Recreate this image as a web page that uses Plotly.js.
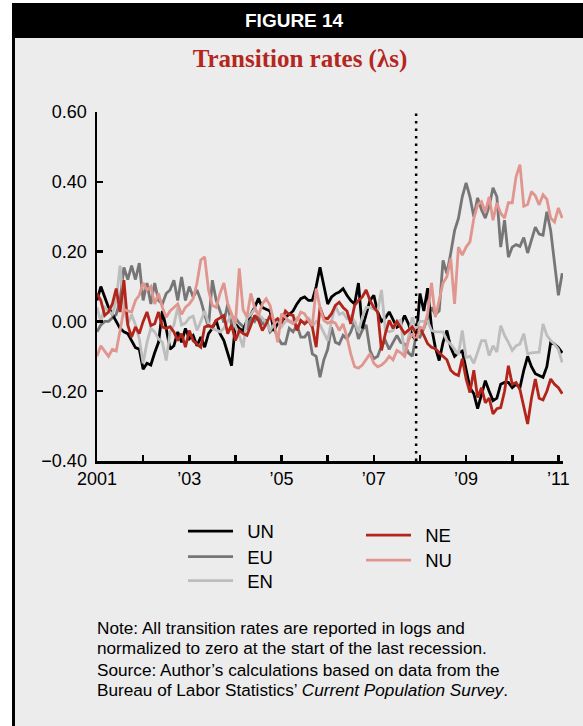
<!DOCTYPE html>
<html>
<head>
<meta charset="utf-8">
<script src="https://cdn.plot.ly/plotly-3.0.1.min.js"></script>
<style>
html,body{margin:0;padding:0;background:#ffffff;}
#chart{width:583px;height:726px;}
</style>
</head>
<body>
<div id="chart"></div>
<script>
// ---- data (monthly, Jan 2001 .. Feb 2011), logs normalized to zero at start of last recession ----
const startYear = 2001;
const recessionStart = 2007 + 11/12; // Dec 2007

const UN = [
 0.06, 0.10, 0.07, 0.04, 0.02, 0.00, -0.02, -0.03, -0.035, -0.055,
 -0.075, -0.08, -0.137, -0.12, -0.125, -0.09, -0.06, 0.03, -0.02, -0.08,
 -0.07, -0.03, -0.06, -0.02, -0.05, -0.04, -0.07, -0.045, -0.074, -0.035,
 -0.02, 0.003, -0.035, -0.055, -0.09, -0.127, -0.007, -0.02, -0.027, 0.003,
 0.02, 0.04, 0.066, 0.04, 0.035, 0.03, -0.027, -0.005, 0.0, 0.012,
 0.02, 0.03, 0.05, 0.065, 0.07, 0.06, 0.06, 0.10, 0.155, 0.10,
 0.05, 0.07, 0.079, 0.084, 0.094, 0.075, 0.06, 0.05, 0.11, -0.02,
 0.02, 0.06, 0.075, 0.027, 0.0, 0.01, 0.027, 0.005, -0.017, -0.01,
 0.017, -0.007, -0.04, -0.055, 0.08, 0.03, 0.095, -0.017, -0.075, -0.112,
 -0.06, -0.026, -0.075, -0.10, -0.09, -0.085, -0.14, -0.19, -0.207, -0.25,
 -0.21, -0.17, -0.20, -0.227, -0.22, -0.18, -0.175, -0.175, -0.19, -0.18,
 -0.19, -0.14, -0.10, -0.13, -0.15, -0.155, -0.16, -0.13, -0.06, -0.065,
 -0.075, -0.09
];

const EU = [
 -0.03, -0.01, 0.00, 0.00, 0.01, 0.02, 0.06, 0.155, 0.12, 0.16,
 0.12, 0.167, 0.06, 0.11, 0.05, 0.11, 0.06, 0.05, 0.08, 0.09,
 0.118, 0.06, 0.127, 0.06, 0.10, 0.07, 0.09, 0.06, 0.02, -0.017,
 0.118, 0.06, 0.03, -0.003, 0.05, -0.01, 0.01, -0.005, -0.015, -0.02,
 0.01, 0.00, 0.02, -0.01, 0.005, -0.03, -0.02, -0.045, -0.064, -0.064,
 -0.02, -0.03, -0.01, -0.045, -0.045, -0.03, -0.093, -0.10, -0.16, -0.11,
 -0.08, -0.017, -0.06, -0.065, -0.04, -0.05, -0.03, 0.0, -0.05, -0.025,
 -0.01, -0.083, -0.107, -0.10, -0.07, -0.055, -0.08, -0.06, -0.04, -0.06,
 -0.065, -0.09, -0.10, -0.04, -0.045, -0.02, 0.01, 0.04, 0.02, 0.03,
 0.175, 0.137, 0.195, 0.26, 0.295, 0.357, 0.397, 0.357, 0.30, 0.354,
 0.32, 0.296, 0.33, 0.383, 0.357, 0.213, 0.29, 0.184, 0.213, 0.22,
 0.215, 0.24, 0.196, 0.23, 0.27, 0.25, 0.247, 0.314, 0.26, 0.167,
 0.075, 0.138
];

const EN = [
 0.04, 0.0, 0.04, 0.03, 0.02, 0.06, 0.16, 0.04, -0.01, 0.02,
 -0.01, -0.05, -0.12, -0.06, -0.02, -0.03, -0.05, -0.06, -0.112, -0.03,
 -0.01, 0.04, -0.01, -0.005, 0.01, 0.015, -0.026, 0.0, 0.03, -0.005,
 -0.02, -0.025, -0.03, -0.02, 0.00, 0.02, -0.015, -0.04, -0.074, 0.01,
 0.02, 0.035, 0.02, 0.01, -0.005, -0.025, -0.01, 0.005, -0.015, 0.0,
 0.002, 0.0, 0.01, 0.0, -0.003, 0.012, -0.016, 0.0, -0.01, -0.035,
 -0.055, 0.0, 0.046, 0.02, 0.025, 0.008, 0.015, 0.0, -0.03, 0.012,
 0.04, 0.04, 0.035, 0.03, 0.09, -0.026, -0.03, -0.026, 0.0, 0.003,
 -0.103, -0.045, 0.012, -0.02, 0.0, 0.0, 0.0, -0.026, -0.03, -0.03,
 -0.03, -0.055, -0.065, -0.08, -0.095, -0.026, -0.104, -0.10, -0.12, -0.088,
 -0.055, -0.055, -0.098, -0.07, -0.088, -0.012, -0.04, -0.06, -0.083, -0.07,
 -0.065, -0.035, -0.093, -0.09, -0.088, -0.088, -0.007, -0.04, -0.055, -0.065,
 -0.08, -0.118
];

const NE = [
 0.08, 0.06, 0.017, 0.027, 0.05, 0.094, 0.027, 0.118, -0.01, -0.045,
 -0.016, -0.035, 0.0, 0.027, -0.012, -0.007, 0.027, -0.016, -0.02, -0.015,
 -0.03, -0.055, -0.035, -0.074, -0.026, -0.055, -0.065, -0.074, -0.016, -0.012,
 -0.016, 0.003, 0.01, 0.017, -0.035, -0.01, -0.055, -0.026, -0.035, -0.04,
 -0.012, 0.017, 0.003, -0.026, -0.007, 0.017, 0.0, 0.008, -0.005, 0.03,
 0.02, 0.017, -0.026, 0.003, -0.007, 0.003, -0.016, -0.074, 0.04, 0.01,
 0.008, 0.022, 0.046, 0.055, 0.04, 0.03, -0.007, 0.046, 0.06, 0.07,
 0.09, 0.06, 0.04, 0.027, -0.083, -0.035, 0.003, -0.02, 0.0, -0.016,
 -0.035, -0.025, -0.016, -0.035, -0.02, -0.04, -0.064, -0.074, -0.078, -0.09,
 -0.10, -0.11, -0.14, -0.15, -0.155, -0.107, -0.165, -0.204, -0.14, -0.218,
 -0.19, -0.233, -0.22, -0.265, -0.25, -0.247, -0.20, -0.127, -0.18, -0.175,
 -0.195, -0.24, -0.294, -0.22, -0.165, -0.22, -0.225, -0.20, -0.165, -0.18,
 -0.19, -0.207
];

const NU = [
 -0.10, -0.07, -0.085, -0.10, -0.08, -0.085, -0.026, 0.035, 0.03, 0.027,
 0.06, 0.075, 0.11, 0.09, 0.10, 0.05, 0.08, 0.04, 0.012, 0.03,
 0.04, 0.05, 0.02, 0.04, 0.05, 0.065, 0.11, 0.176, 0.185, 0.09,
 0.046, 0.04, 0.08, 0.11, 0.05, 0.02, -0.007, 0.152, 0.033, 0.012,
 0.08, 0.04, 0.017, 0.05, 0.065, 0.046, -0.002, -0.06, 0.022, 0.012,
 0.0, -0.007, 0.003, 0.027, 0.022, 0.003, -0.012, 0.094, 0.04, 0.003,
 -0.005, 0.0, -0.005, -0.026, -0.007, -0.045, -0.093, -0.13, -0.134, -0.125,
 -0.11, -0.093, -0.12, -0.13, -0.125, -0.115, -0.10, -0.11, -0.083, -0.09,
 -0.10, -0.055, -0.035, -0.055, -0.017, -0.02, 0.023, 0.11, 0.012, 0.06,
 0.11, 0.128, 0.18, 0.05, 0.213, 0.19, 0.213, 0.228, 0.295, 0.334,
 0.343, 0.313, 0.357, 0.29, 0.34, 0.31, 0.296, 0.34, 0.34, 0.415,
 0.449, 0.33, 0.335, 0.372, 0.36, 0.334, 0.363, 0.35, 0.296, 0.285,
 0.325, 0.296
];

const seriesNames = ['UN', 'EU', 'EN', 'NE', 'NU'];
const yTicks = [-0.40, -0.20, 0.00, 0.20, 0.40, 0.60];
const xTickVals = [2001, 2002, 2003, 2004, 2005, 2006, 2007, 2008, 2009, 2010, 2011];
const xTickText = ['2001', '', '\u201903', '', '\u201905', '', '\u201907', '', '\u201909', '', '\u201911'];

// ---- time axis: one point per month from Jan 2001 ----
const months = UN.map((_, i) => startYear + i / 12);

// ---- geometry helpers ----
const W = 583, H = 726;
const M = {l: 97, r: 20, t: 112, b: 265, autoexpand: false};
const PW = W - M.l - M.r, PH = H - M.t - M.b;
const px = x => (x - M.l) / PW;
const py = y => (H - M.b - y) / PH;

const FONT = 'Liberation Sans, Arial, Helvetica, sans-serif';
const SP = '\u2002'; // gap between legend line and label

function tr(name, y, color, legend) {
  return {
    type: 'scatter', mode: 'lines', name: SP + name, x: months, y: y,
    line: {color: color, width: 2.8},
    legend: legend, hoverinfo: 'skip'
  };
}

const traces = [
  tr(seriesNames[1], EU, '#767676', 'legend2'),
  tr(seriesNames[0], UN, '#000000', 'legend'),
  tr(seriesNames[2], EN, '#bdbdbd', 'legend3'),
  tr(seriesNames[3], NE, '#b3241b', 'legend4'),
  tr(seriesNames[4], NU, '#e0958e', 'legend5')
];

const shapes = [
  {type: 'rect', xref: 'paper', yref: 'paper', x0: px(0), x1: px(12), y0: py(H), y1: py(0),
   fillcolor: '#ffffff', line: {width: 0}, layer: 'below'},
  {type: 'rect', xref: 'paper', yref: 'paper', x0: px(0), x1: px(W), y0: py(3), y1: py(0),
   fillcolor: '#ffffff', line: {width: 0}, layer: 'below'},
  {type: 'rect', xref: 'paper', yref: 'paper', x0: px(12), x1: px(W), y0: py(38), y1: py(3),
   fillcolor: '#000000', line: {width: 0}, layer: 'below'},
  {type: 'line', xref: 'paper', yref: 'paper', x0: px(13.5), x1: px(13.5), y0: py(H), y1: py(3),
   line: {color: '#000000', width: 3}, layer: 'below'},
  {type: 'line', xref: 'x', yref: 'y', x0: recessionStart, x1: recessionStart, y0: -0.40, y1: 0.60,
   line: {color: '#000000', width: 2.5, dash: '2.5px,5px'}, layer: 'above'}
];

const annotations = [
  {xref: 'paper', yref: 'paper', x: px(294), y: py(20), xanchor: 'center', yanchor: 'middle',
   text: '<b>FIGURE 14</b>', showarrow: false,
   font: {family: FONT, size: 19, color: '#ffffff'}},
  {xref: 'paper', yref: 'paper', x: px(95), y: py(628), xanchor: 'left', yanchor: 'middle',
   text: 'Note: All transition rates are reported in logs and', showarrow: false,
   font: {family: FONT, size: 17.2, color: '#000000'}},
  {xref: 'paper', yref: 'paper', x: px(95), y: py(648), xanchor: 'left', yanchor: 'middle',
   text: 'normalized to zero at the start of the last recession.', showarrow: false,
   font: {family: FONT, size: 17.2, color: '#000000'}},
  {xref: 'paper', yref: 'paper', x: px(95), y: py(670), xanchor: 'left', yanchor: 'middle',
   text: 'Source: Author\u2019s calculations based on data from the', showarrow: false,
   font: {family: FONT, size: 17.2, color: '#000000'}},
  {xref: 'paper', yref: 'paper', x: px(95), y: py(690), xanchor: 'left', yanchor: 'middle',
   text: 'Bureau of Labor Statistics\u2019 <i>Current Population Survey</i>.', showarrow: false,
   font: {family: FONT, size: 17.2, color: '#000000'}}
];

function leg(xPx, centerPx) {
  return {
    xref: 'container', yref: 'container', x: xPx / W, y: 1 - (centerPx - 18.5) / H,
    xanchor: 'left', yanchor: 'top', bgcolor: 'rgba(0,0,0,0)', borderwidth: 0,
    font: {family: FONT, size: 18.5, color: '#000000'}, itemwidth: 45
  };
}

const layout = {
  width: W, height: H,
  margin: M,
  paper_bgcolor: '#ececec',
  plot_bgcolor: '#ececec',
  showlegend: true,
  title: {
    text: '<b>Transition rates (\u03bbs)</b>',
    xref: 'container', yref: 'container', x: 300 / W, y: 1 - 58 / H,
    xanchor: 'center', yanchor: 'middle',
    font: {family: 'Liberation Serif, Times New Roman, serif', size: 25, color: '#b5261e'}
  },
  xaxis: {
    range: [2001, 2011.1], showgrid: false, zeroline: false,
    showline: true, linecolor: '#000000', linewidth: 2.5,
    ticks: 'inside', ticklen: 6, tickwidth: 2.5, tickcolor: '#000000',
    tickvals: xTickVals, ticktext: xTickText, ticklabelstandoff: 0, tickangle: 0,
    tickfont: {family: FONT, size: 18, color: '#000000'}, fixedrange: true
  },
  yaxis: {
    range: [-0.40, 0.60], showgrid: false, zeroline: false,
    showline: true, linecolor: '#000000', linewidth: 2.5,
    ticks: 'inside', ticklen: 6, tickwidth: 2.5, tickcolor: '#000000',
    tickvals: yTicks, tickformat: '.2f', ticklabelstandoff: 4,
    tickfont: {family: FONT, size: 18, color: '#000000'}, fixedrange: true
  },
  legend: leg(183, 531),
  legend2: leg(183, 556.5),
  legend3: leg(183, 580.5),
  legend4: leg(361, 535),
  legend5: leg(361, 560),
  shapes: shapes,
  annotations: annotations
};

Plotly.newPlot('chart', traces, layout, {staticPlot: true, displayModeBar: false});
</script>
</body>
</html>
